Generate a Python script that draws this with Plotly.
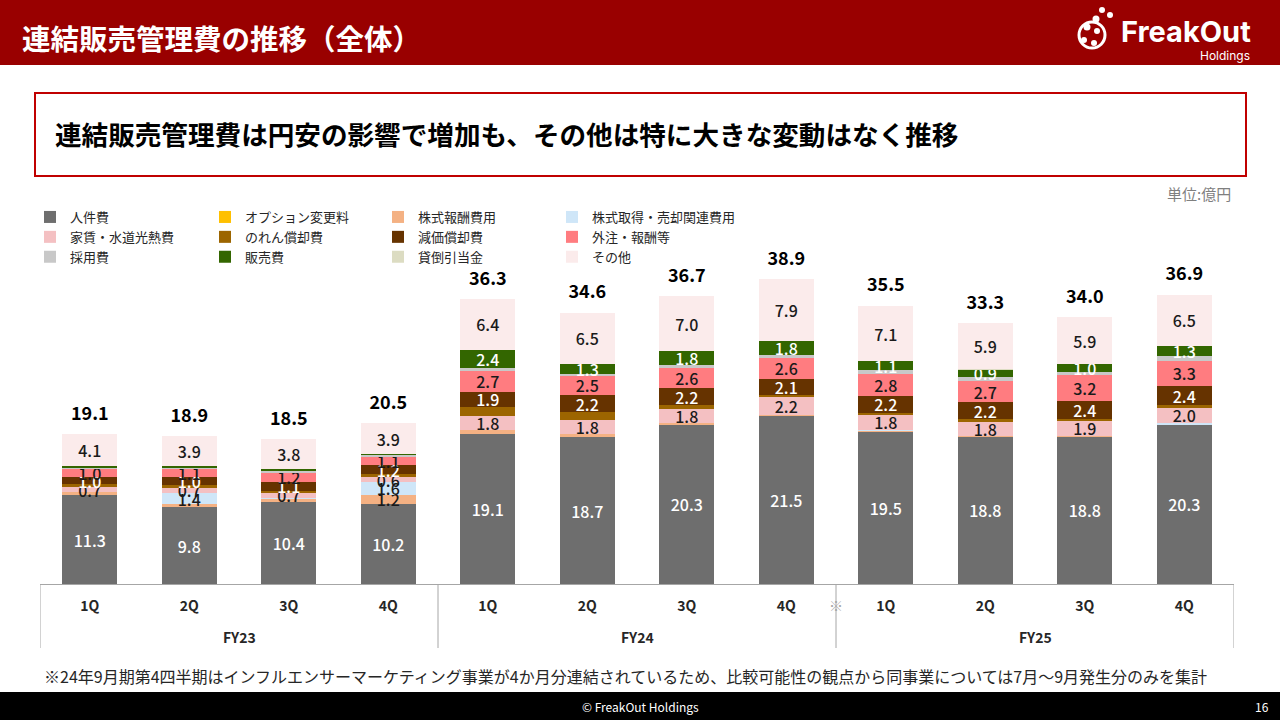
import plotly.graph_objects as go

# ---------------- data ----------------
fiscal_year_labels = ["FY23", "FY24", "FY25"]
fiscal_years = ["FY23"] * 4 + ["FY24"] * 4 + ["FY25"] * 4
quarters = ["1Q", "2Q", "3Q", "4Q"] * 3

series_names = ["人件費", "オプション変更料", "株式報酬費用", "株式取得・売却関連費用",
                "家賃・水道光熱費", "のれん償却費", "減価償却費", "外注・報酬等",
                "採用費", "販売費", "貸倒引当金", "その他"]

personnel = [11.3, 9.8, 10.4, 10.2, 19.1, 18.7, 20.3, 21.5, 19.5, 18.8, 18.8, 20.3]
option_fee = [0.0, 0.0, 0.0, 0.0, 0.0, 0.0, 0.0, 0.0, 0.0, 0.0, 0.0, 0.0]
stock_comp = [0.4, 0.4, 0.5, 1.2, 0.5, 0.4, 0.2, 0.1, 0.1, 0.1, 0.1, 0.1]
stock_acq = [0.0, 1.4, 0.1, 1.6, 0.0, 0.0, 0.0, 0.0, 0.1, 0.0, 0.0, 0.1]
rent = [0.7, 0.7, 0.7, 0.6, 1.8, 1.8, 1.8, 2.2, 1.8, 1.8, 1.9, 2.0]
goodwill = [0.3, 0.3, 0.2, 0.4, 1.2, 1.0, 0.5, 0.3, 0.3, 0.3, 0.2, 0.3]
depreciation = [1.0, 1.0, 1.1, 1.2, 1.9, 2.2, 2.2, 2.1, 2.2, 2.2, 2.4, 2.4]
outsourcing = [1.0, 1.1, 1.2, 1.1, 2.7, 2.5, 2.6, 2.6, 2.8, 2.7, 3.2, 3.3]
recruiting = [0.2, 0.2, 0.3, 0.2, 0.3, 0.2, 0.3, 0.4, 0.5, 0.5, 0.5, 0.6]
sales = [0.1, 0.1, 0.2, 0.1, 2.4, 1.3, 1.8, 1.8, 1.1, 0.9, 1.0, 1.3]
bad_debt = [0.0, 0.0, 0.0, 0.0, 0.0, 0.0, 0.0, 0.0, 0.0, 0.1, 0.0, 0.0]
other = [4.1, 3.9, 3.8, 3.9, 6.4, 6.5, 7.0, 7.9, 7.1, 5.9, 5.9, 6.5]

totals = [19.1, 18.9, 18.5, 20.5, 36.3, 34.6, 36.7, 38.9, 35.5, 33.3, 34.0, 36.9]

series_values = [personnel, option_fee, stock_comp, stock_acq, rent, goodwill,
                 depreciation, outsourcing, recruiting, sales, bad_debt, other]

# ---------------- styles ----------------
colors = ["#6E6E6E", "#FFC000", "#F4B183", "#CFE6F8", "#F4C0C2", "#9C6500",
          "#663300", "#FF7C80", "#C8C8C8", "#336600", "#DCDCC2", "#FBEBEB"]
labeled = {"人件費", "株式報酬費用", "株式取得・売却関連費用", "家賃・水道光熱費",
           "減価償却費", "外注・報酬等", "販売費", "その他"}
white_text = {"人件費", "減価償却費", "販売費"}

JP = "Noto Sans CJK JP"

W, H = 1280, 720
L, R, T, B = 40, 46, 260, 136
plot_w = W - L - R
plot_h = H - T - B
PX_PER_UNIT = 7.84


def px(x):
    return (x - L) / plot_w


def py(y):
    return (H - B - y) / plot_h


x_keys = [f"{fy}-{q}" for fy, q in zip(fiscal_years, quarters)]
legend_ids = ["legend", "legend2", "legend3", "legend4"]

fig = go.Figure()
for i, (name, vals, col) in enumerate(zip(series_names, series_values, colors)):
    texts = [f"{v:.1f}" if (name in labeled and v >= 0.6) else "" for v in vals]
    fig.add_trace(go.Bar(
        x=x_keys, y=vals, name=name,
        marker=dict(color=col, line=dict(width=0)),
        text=texts, textposition="inside", insidetextanchor="middle",
        textangle=0, constraintext="none",
        textfont=dict(family=JP, size=16, weight=500,
                      color="white" if name in white_text else "#1a1a1a"),
        legend=legend_ids[i % 4],
        hoverinfo="skip",
    ))

stack_tops = [sum(v[k] for v in series_values) for k in range(len(totals))]
fig.add_trace(go.Scatter(
    x=x_keys, y=stack_tops, mode="markers+text",
    marker=dict(size=14, color="rgba(0,0,0,0)"),
    text=[f"{t:.1f}" for t in totals], textposition="top center",
    textfont=dict(family=JP, size=18, weight="bold", color="#000000"),
    showlegend=False, cliponaxis=False, hoverinfo="skip",
))

legend_common = dict(orientation="v", xanchor="left", yanchor="top", itemwidth=30,
                     bgcolor="rgba(0,0,0,0)", borderwidth=0, tracegroupgap=0,
                     font=dict(family=JP, size=13, color="#262626"),
                     traceorder="normal")
legend_cols_x = [30, 205, 378, 552]
legend_top_y = 202

shapes = [
    # header band
    dict(type="rect", xref="paper", yref="paper", x0=px(0), x1=px(W), y0=py(65), y1=py(0),
         fillcolor="#990000", line=dict(width=0), layer="below"),
    # footer band
    dict(type="rect", xref="paper", yref="paper", x0=px(0), x1=px(W), y0=py(720), y1=py(692),
         fillcolor="#000000", line=dict(width=0), layer="below"),
    # message box
    dict(type="rect", xref="paper", yref="paper", x0=px(35), x1=px(1246), y0=py(176), y1=py(93),
         fillcolor="rgba(0,0,0,0)", line=dict(color="#C00000", width=2)),
]
# category group dividers
n_cat = len(x_keys)
group_edges = [-0.5] + [k + 0.5 for k in range(n_cat - 1) if fiscal_years[k] != fiscal_years[k + 1]] + [n_cat - 0.5]
for e in group_edges:
    shapes.append(dict(type="line", xref="x", yref="paper", x0=e, x1=e, y0=py(648), y1=0,
                       line=dict(color="#A6A6A6", width=1)))

# simple logo mark (circles)
logo_circles = [(1092, 35, 13, 3), (1110, 15, 3, 0), (1102, 10, 3, 0), (1096, 19, 3.5, 0),
                (1087, 27, 3.5, 0), (1097, 31, 3, 0), (1084, 40, 3, 0), (1094, 43, 3, 0)]
for cx, cy, r, lw in logo_circles:
    if lw:
        shapes.append(dict(type="circle", xref="paper", yref="paper",
                           x0=px(cx - r), x1=px(cx + r), y0=py(cy + r), y1=py(cy - r),
                           fillcolor="rgba(0,0,0,0)", line=dict(color="white", width=lw)))
    else:
        shapes.append(dict(type="circle", xref="paper", yref="paper",
                           x0=px(cx - r), x1=px(cx + r), y0=py(cy + r), y1=py(cy - r),
                           fillcolor="white", line=dict(width=0)))


def ann(text, x, y, size, color, xanchor="left", weight="normal", family=JP):
    return dict(text=text, xref="paper", yref="paper", x=px(x), y=py(y),
                xanchor=xanchor, yanchor="middle", showarrow=False,
                font=dict(family=family, size=size, color=color, weight=weight))


annotations = [
    ann("連結販売管理費の推移（全体）", 20, 37, 28.5, "white", weight="bold"),
    ann("FreakOut", 1253, 31, 29, "white", xanchor="right", weight="bold", family="Inter"),
    ann("Holdings", 1252, 55, 12, "white", xanchor="right", family="Inter"),
    ann("連結販売管理費は円安の影響で増加も、その他は特に大きな変動はなく推移", 53, 133, 26.6,
        "#000000", weight="bold"),
    ann("単位:億円", 1233, 193, 15, "#7F7F7F", xanchor="right"),
    ann("※24年9月期第4四半期はインフルエンサーマーケティング事業が4か月分連結されているため、比較可能性の観点から同事業については7月～9月発生分のみを集計",
        42, 676, 16, "#262626"),
    ann("© FreakOut Holdings", 640, 706, 12, "white", xanchor="center"),
    ann("16", 1262, 706, 12, "white", xanchor="center"),
]
# fiscal-year group labels centred under their quarters
for fy in fiscal_year_labels:
    idx = [k for k, f in enumerate(fiscal_years) if f == fy]
    annotations.append(dict(text=fy, xref="x", yref="paper", x=sum(idx) / len(idx), y=py(637),
                            xanchor="center", yanchor="middle", showarrow=False,
                            font=dict(family=JP, size=14, weight="bold", color="#262626")))
# note mark at the FY24 / FY25 boundary
annotations.append(dict(text="※", xref="x", yref="paper", x=group_edges[2], y=py(605),
                        xanchor="center", yanchor="middle", showarrow=False,
                        font=dict(family=JP, size=14, color="#A6A6A6")))

legend_layout = {}
for lid, lx in zip(legend_ids, legend_cols_x):
    legend_layout[lid] = dict(legend_common, x=px(lx), y=py(legend_top_y))

fig.update_layout(
    width=W, height=H, autosize=False,
    margin=dict(l=L, r=R, t=T, b=B, pad=0, autoexpand=False),
    paper_bgcolor="white", plot_bgcolor="white",
    barmode="stack", bargap=0.447,
    font=dict(family=JP, color="#262626"),
    showlegend=True,
    xaxis=dict(type="category", categoryorder="array", categoryarray=x_keys,
               tickvals=x_keys, ticktext=quarters, range=[-0.5, n_cat - 0.5],
               showline=True, linecolor="#A6A6A6", linewidth=1,
               ticks="", showgrid=False, ticklabelstandoff=9,
               tickfont=dict(family=JP, size=14, weight="bold", color="#262626")),
    yaxis=dict(range=[0, plot_h / PX_PER_UNIT], visible=False, showgrid=False, fixedrange=True),
    shapes=shapes, annotations=annotations,
    **legend_layout,
)

fig.write_html("out.html")
